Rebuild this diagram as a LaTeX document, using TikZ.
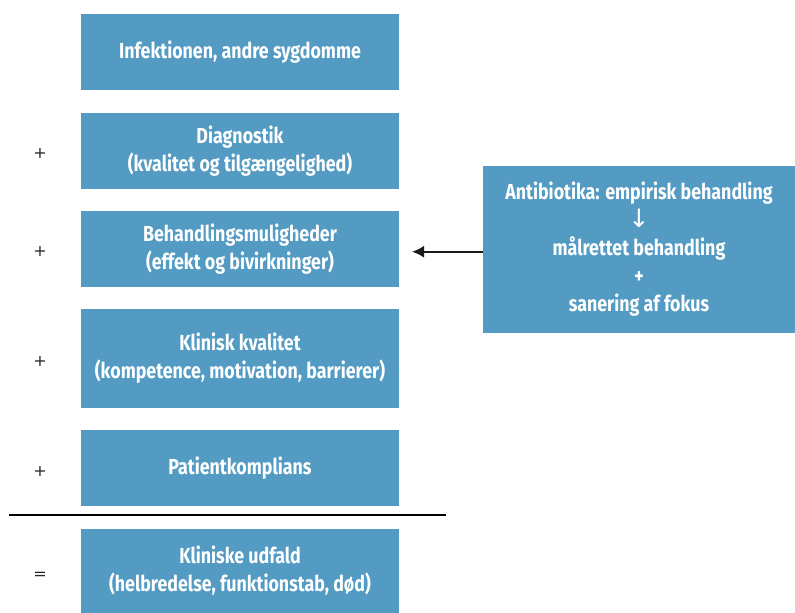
\documentclass[tikz,border=0pt]{standalone}
\usepackage{fontspec}
\setmainfont{Fira Sans}[FakeStretch=0.82]
\newfontfamily\symfont{DejaVu Sans}
\usepackage{tikz}
\usetikzlibrary{arrows.meta}
\usepackage{xcolor}
\definecolor{boxblue}{RGB}{83,155,195}

\begin{document}
\begin{tikzpicture}[x=0.75pt,y=-0.75pt]
  \tikzset{font={\fontsize{16.3}{21}\selectfont\bfseries},
    blok/.style={fill=boxblue,text=white,align=center,inner sep=0pt,
      minimum width=238.5pt,minimum height=57pt},
    tegn/.style={font={\symfont\fontsize{12}{14}\selectfont},text=black!85}}
  \useasboundingbox (0,0) rectangle (795,613);
  % venstre kolonne
  \node[blok] (infek) at (240,52) {Infektionen, andre sygdomme};
  \node[blok] (diag) at (240,151) {Diagnostik\\(kvalitet og tilgængelighed)};
  \node[blok] (behand) at (240,249) {Behandlingsmuligheder\\(effekt og bivirkninger)};
  \node[blok,minimum height=74.25pt] (klin) at (240,358.5) {Klinisk kvalitet\\(kompetence, motivation, barrierer)};
  \node[blok] (patient) at (240,468) {Patientkomplians};
  \node[blok,minimum height=63pt] (udfald) at (240,571) {Kliniske udfald\\(helbredelse, funktionstab, død)};
  % plus og lig med
  \node[tegn] (p1) at (40,153) {+};
  \node[tegn] (p2) at (40,251) {+};
  \node[tegn] (p3) at (40,361) {+};
  \node[tegn] (p4) at (40,471) {+};
  \node[tegn] (lig) at (40,576) {=};
  \coordinate (streg1) at (9,515);
  \coordinate (streg2) at (446,515);
  \draw[line width=1.5pt] (streg1)--(streg2);
  % antibiotika
  \node[blok,minimum width=234pt,minimum height=125.25pt] (anti) at (639,249.5)
    {Antibiotika: empirisk behandling\\{\symfont\mdseries\fontsize{19}{21}\selectfont\char"2193}\\målrettet behandling\\+\\sanering af fokus};
  \coordinate (pil) at (412,251.7);
  \draw[-{Latex[length=9pt,width=9pt]},line width=1.5pt,black!90] (anti.west|-pil)--(pil);
\end{tikzpicture}
\end{document}
